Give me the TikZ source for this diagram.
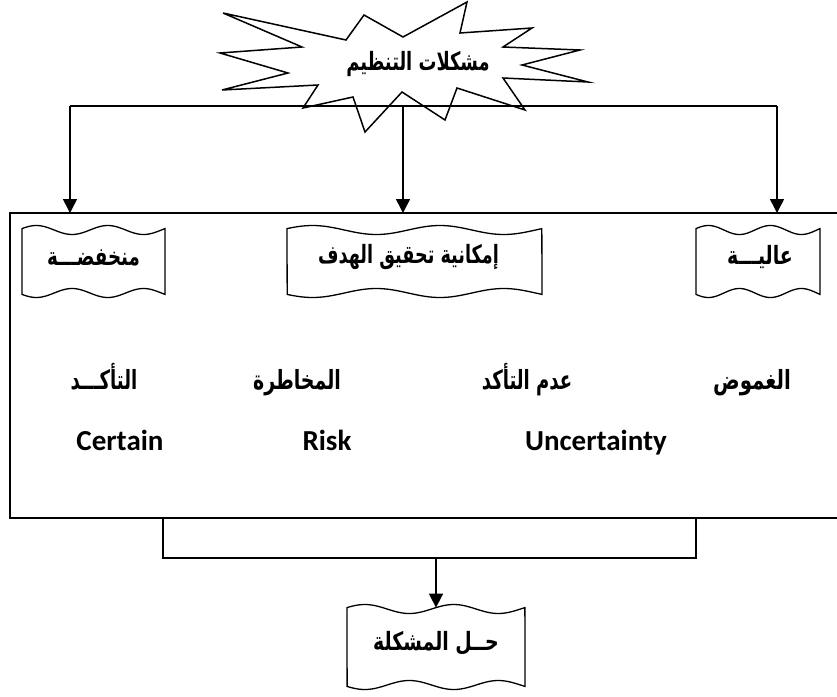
\documentclass[tikz,border=0pt]{standalone}
\usepackage{fontspec}
\usepackage{graphicx}
\setmainfont{Carlito}
\newfontfamily\arabicfont[Script=Arabic]{DejaVu Sans}
\TeXXeTstate=1
\usetikzlibrary{arrows.meta}
\tikzset{
  conn/.style={line width=1.6pt},
  arr/.style={conn,-{Triangle[length=14pt,width=14pt]}},
  boxtext/.style={font=\arabicfont\bfseries\fontsize{21}{25}\selectfont,inner sep=0pt},
  rowtext/.style={font=\arabicfont\bfseries\fontsize{22}{26}\selectfont,inner sep=0pt,anchor=base},
  entext/.style={font=\bfseries\fontsize{29}{33}\selectfont,inner sep=0pt,anchor=base},
  wave/.style={line width=1.3pt},
  burst/.style={line width=1.5pt},
}
\newcommand\wavebox[7]{%
  \draw[wave] plot[domain=0:1,samples=80,smooth] ({#2+(#3-#2)*\x},{#4-4.5*sin(720*\x+18)})
    -- plot[domain=1:0,samples=80,smooth] ({#2+(#3-#2)*\x},{#5+4.5*sin(720*\x+18)}) -- cycle;
  \node[boxtext] (#1) at ({(#2+#3)/2+#6},{(#4+#5)/2-4}) {#7};
  \coordinate (#1t) at ({(#2+#3)/2},{#4-1.4});
}
\begin{document}
\begin{tikzpicture}[x=1pt,y=-1pt]
\useasboundingbox (0,0) rectangle (837,696);
% starburst
\draw[burst] (223,13) -- (346,40) -- (364,15) -- (403,37) -- (467,2) -- (460,33) -- (532,28) -- (503,47) -- (580,50) -- (522,65) -- (588,82) -- (503,78) -- (525,110) -- (457,88) -- (445,120) -- (402,92) -- (365,132) -- (353,97) -- (303,108) -- (318,85) -- (222,90) -- (288,73) -- (220,53) -- (302,47) -- cycle;
\node[boxtext] (prob) at (418,64) {\scalebox{0.85}[1.2]{\beginR مشكلات التنظيم\endR}};
% distribution lines
\coordinate (hl) at (70,106);
\coordinate (hm) at (403,106);
\coordinate (hr) at (777,106);
\coordinate (mt) at (0,213);
\draw[conn] (hl) -- (hr);
\draw[arr] (hl) -- (hl |- mt);
\draw[arr] (hm) -- (hm |- mt);
\draw[arr] (hr) -- (hr |- mt);
% main frame (right side beyond the picture)
\coordinate (mtr) at (838,213);
\coordinate (mtl) at (10,213);
\coordinate (mbl) at (10,518);
\coordinate (mbr) at (838,518);
\draw[conn] (mtr) -- (mtl) -- (mbl) -- (mbr);
% wave boxes
\wavebox{low}{22}{165}{230}{293}{0}{\scalebox{0.87}[1.2]{\beginR منخفضـــة\endR}}
\wavebox{goal}{287}{542}{230}{293}{-6}{\scalebox{0.84}[1.2]{\beginR إمكانية تحقيق الهدف\endR}}
\wavebox{high}{696}{820}{230}{293}{2}{\scalebox{0.9}[1.2]{\beginR عاليـــة\endR}}
% row texts
\node[rowtext] (c1) at (104,389) {\scalebox{0.82}[1.2]{\beginR التأكـــد\endR}};
\node[rowtext] (c2) at (297,389) {\scalebox{0.86}[1.2]{\beginR المخاطرة\endR}};
\node[rowtext] (c3) at (527,389) {\scalebox{0.82}[1.2]{\beginR عدم التأكد\endR}};
\node[rowtext] (c4) at (752,389) {\scalebox{0.9}[1.2]{\beginR الغموض\endR}};
\node[entext] (e1) at (120,450) {Certain};
\node[entext] (e2) at (327,450) {Risk};
\node[entext] (e3) at (596,450) {Uncertainty};
% bracket and final arrow
\coordinate (bl) at (163,518);
\coordinate (br) at (696,518);
\coordinate (bm) at (436,558);
\draw[conn] (bl) -- (163,558) -- (696,558) -- (br);
\wavebox{sol}{347}{525}{609}{685}{0}{\scalebox{0.9}[1.2]{\beginR حــل المشكلة\endR}}
\draw[arr] (bm) -- (bm |- solt);
\end{tikzpicture}
\end{document}
